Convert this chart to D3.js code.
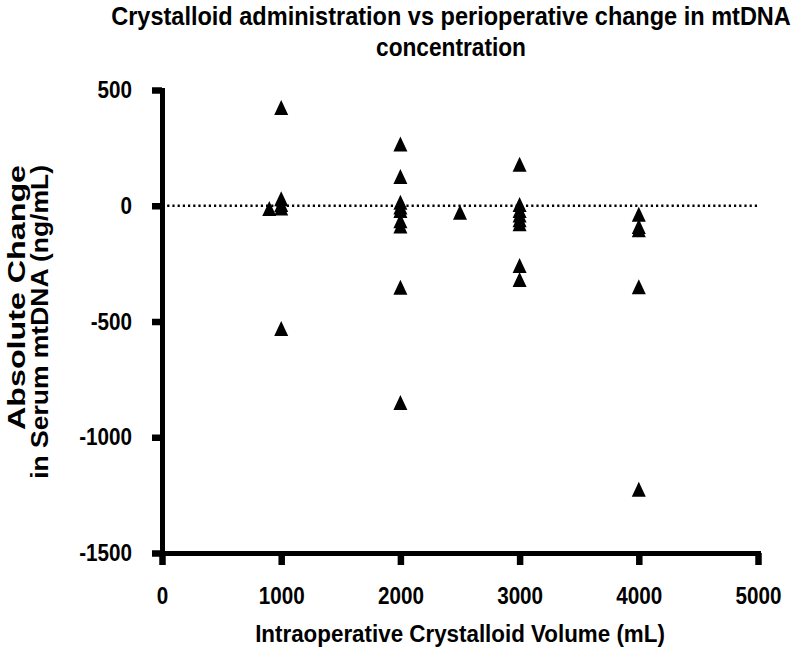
<!DOCTYPE html>
<html>
<head>
<meta charset="utf-8">
<script src="https://cdn.jsdelivr.net/npm/d3@7"></script>
<style>
  html, body { margin: 0; padding: 0; background: #fff; }
  svg { display: block; }
  text { font-family: "Liberation Sans", Arial, sans-serif; font-weight: bold; fill: #000; }
</style>
</head>
<body>
<svg id="chart" width="800" height="660"></svg>
<script>
// ---- data ----
const volumes = [900, 1000, 1000, 1000, 1000, 1000,
  2000, 2000, 2000, 2000, 2000, 2000, 2000, 2000, 2000,
  2500,
  3000, 3000, 3000, 3000, 3000, 3000, 3000, 3000,
  4000, 4000, 4000, 4000, 4000];
const changes = [-12, 424, 30, 5, -10, -530,
  267, 126, 15, -5, -20, -65, -87, -352, -850,
  -28,
  179, 5, -20, -40, -60, -78, -258, -319,
  -37, -90, -104, -350, -1225];
const xTicks = [0, 1000, 2000, 3000, 4000, 5000];
const yTicks = [500, 0, -500, -1000, -1500];
const titleLines = ["Crystalloid administration vs perioperative change in mtDNA", "concentration"];
const yLabelLines = ["Absolute Change", "in Serum mtDNA (ng/mL)"];
const xLabel = "Intraoperative Crystalloid Volume (mL)";

// ---- layout ----
const W = 800, H = 660;
const m = { left: 162, right: 42, top: 90, bottom: 107 };
const svg = d3.select("#chart");

const x = d3.scaleLinear().domain([0, 5000]).range([m.left, W - m.right]);
const y = d3.scaleLinear().domain([-1500, 500]).range([H - m.bottom, m.top]);
const fmt = d => String(d);

// zero reference line (dotted)
svg.append("line")
  .attr("x1", x(0)).attr("x2", x(5000))
  .attr("y1", y(0)).attr("y2", y(0))
  .attr("stroke", "#000").attr("stroke-width", 2.4)
  .attr("stroke-dasharray", "2.2,3");

// axes
const xAxis = svg.append("g")
  .attr("transform", `translate(0,${y(-1500)})`)
  .call(d3.axisBottom(x).tickValues(xTicks).tickSize(12).tickSizeOuter(0).tickPadding(22).tickFormat(fmt));
const yAxis = svg.append("g")
  .attr("transform", `translate(${x(0)},0)`)
  .call(d3.axisLeft(y).tickValues(yTicks).tickSize(10).tickSizeOuter(0).tickPadding(20).tickFormat(fmt));

[xAxis, yAxis].forEach(g => {
  g.select(".domain").attr("stroke", "#000").attr("stroke-width", 5).attr("stroke-linecap", "square");
  g.selectAll(".tick line").attr("stroke", "#000").attr("stroke-width", 6.5);
  g.selectAll(".tick text")
    .attr("font-family", "'Liberation Sans', Arial, sans-serif")
    .attr("font-weight", "bold").attr("font-size", 24).attr("fill", "#000")
    .each(function () {
      const len = this.getComputedTextLength();
      d3.select(this).attr("textLength", len * 0.86).attr("lengthAdjust", "spacingAndGlyphs");
    });
});

// triangle marker (width 14, height 15, centred on its box)
const tri = {
  draw(ctx, size) {
    const w = 7, h = 7.5;
    ctx.moveTo(0, -h);
    ctx.lineTo(w, h);
    ctx.lineTo(-w, h);
    ctx.closePath();
  }
};
const pts = volumes.map((v, i) => ({ v, c: changes[i] }));
svg.append("g").selectAll("path").data(pts).join("path")
  .attr("d", d3.symbol(tri, 100))
  .attr("transform", d => `translate(${x(d.v)},${y(d.c)})`)
  .attr("fill", "#000");

// condensed text helper: scales horizontally to a target width
function condensed(str, cx, cy, size, width, rotate, anchor) {
  const t = svg.append("text").attr("font-size", size)
    .attr("text-anchor", anchor || "middle").text(str);
  const natural = t.node().getComputedTextLength();
  const sx = width / natural;
  t.attr("transform", `translate(${cx},${cy})${rotate ? " rotate(-90)" : ""} scale(${sx},1)`);
  return t;
}

// title
condensed(titleLines[0], 451, 25, 25, 680);
condensed(titleLines[1], 451, 56, 25, 150);

// x label
condensed(xLabel, 460, 642, 24, 410);

// y label (two rotated lines, end-aligned at top)
condensed(yLabelLines[0], 25, 165, 24, 265, true, "end");
condensed(yLabelLines[1], 48, 165, 24, 314, true, "end");
</script>
</body>
</html>
